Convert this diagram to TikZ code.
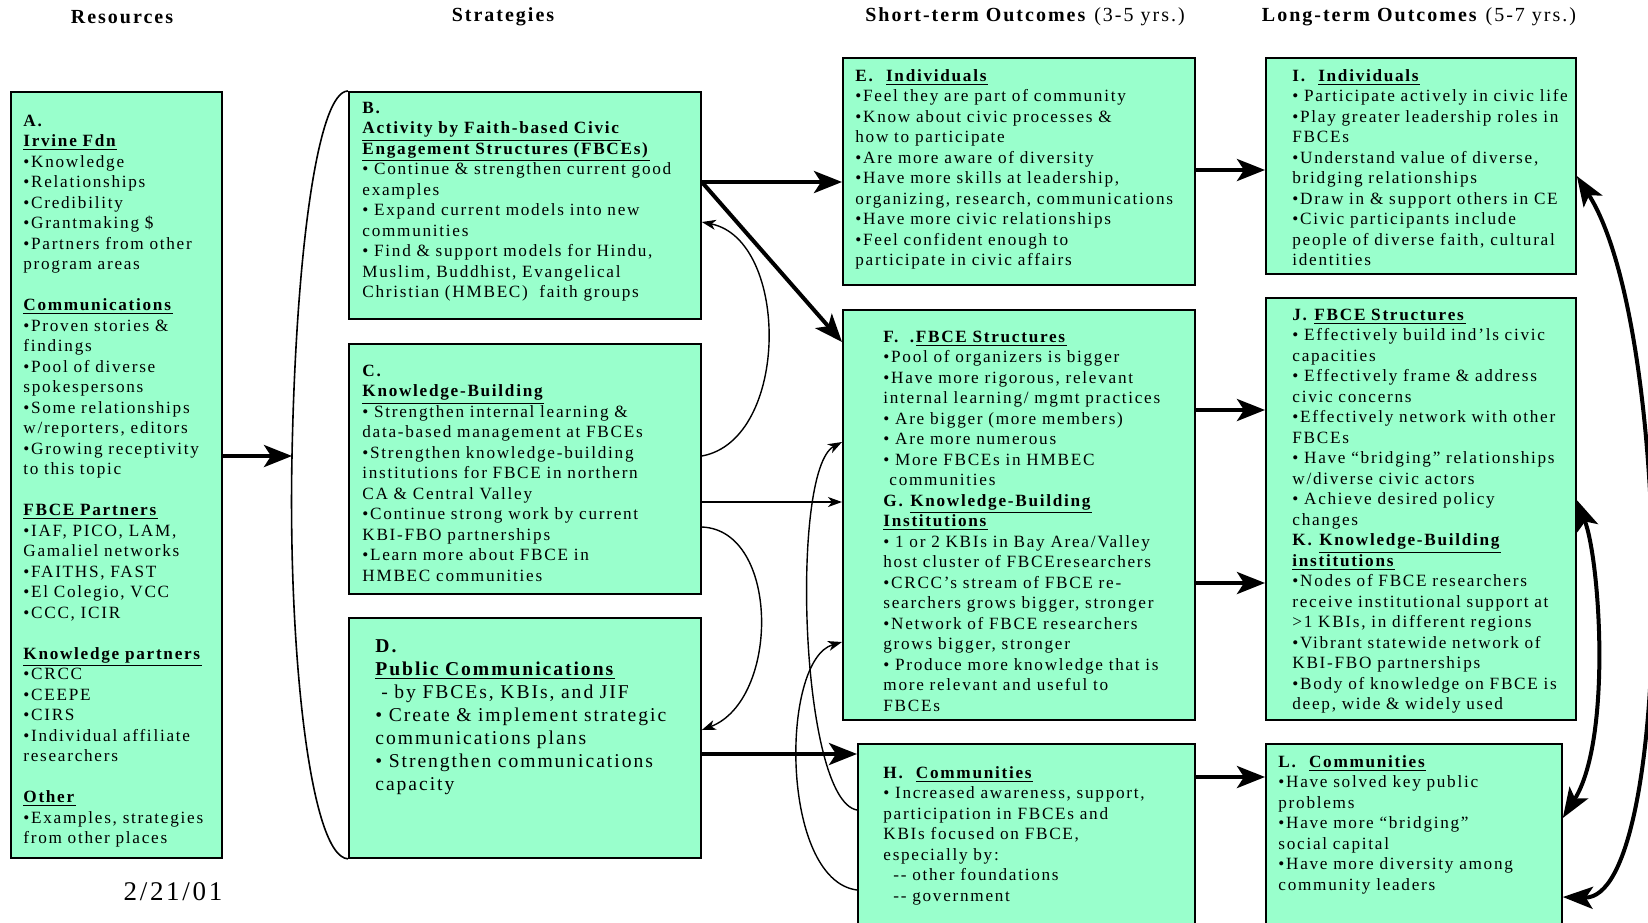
\documentclass[tikz,border=0pt]{standalone}
\usepackage{fontspec}
\setmainfont{Liberation Serif}[LetterSpace=10]
\usetikzlibrary{arrows.meta}
\definecolor{boxgreen}{RGB}{153,255,204}
\newcommand{\hd}[1]{\underline{\textbf{#1}}}
\newcommand{\gap}{\\[10.25pt]}

\begin{document}
\begin{tikzpicture}[x=0.5pt, y=-0.5pt,
  box/.style={draw, line width=0.9pt, fill=boxgreen, anchor=north west, inner sep=0pt},
  txt/.style={anchor=base west, inner sep=0pt, align=left, text width=175pt,
    font=\fontsize{8.6}{10.25}\selectfont},
  head/.style={inner sep=0pt, font=\fontsize{10}{12}\selectfont\bfseries},
  bigarrow/.style={line width=2pt, -{Stealth[length=14pt, width=11pt, inset=3.5pt]}},
  thinarrow/.style={line width=0.7pt, -{Stealth[length=7pt, width=5pt, inset=2pt]}},
  dblarrow/.style={line width=2pt, {Stealth[length=15pt, width=11pt, inset=3.5pt]}-{Stealth[length=15pt, width=11pt, inset=3.5pt]}}]
  \useasboundingbox (0,0) rectangle (1648,922);
  \clip (0,0) rectangle (1648,922);

  \node[head] (res) at (122,17) {Resources};
  \node[head] (str) at (503,17) {Strategies};
  \node[head] (sto) at (1026,17) {Short-term Outcomes \textmd{(3-5 yrs.)}};
  \node[head] (lto) at (1420,17) {Long-term Outcomes \textmd{(5-7 yrs.)}};
  \node[inner sep=0pt, font=\fontsize{13.5}{16}\selectfont] (date) at (173,892) {2/21/01};

  \node[box, minimum width=105.5pt, minimum height=383pt] (A) at (10,91) {};
  \node[box, minimum width=176pt, minimum height=113.5pt] (B) at (348,91) {};
  \node[box, minimum width=176pt, minimum height=125pt] (C) at (348,343) {};
  \node[box, minimum width=176pt, minimum height=120pt] (D) at (348,617) {};
  \node[box, minimum width=176pt, minimum height=113.5pt] (E) at (842,57) {};
  \node[box, minimum width=176pt, minimum height=205pt] (F) at (842,309) {};
  \node[box, minimum width=168.5pt, minimum height=100pt] (H) at (857,743) {};
  \node[box, minimum width=155pt, minimum height=108pt] (I) at (1265,57) {};
  \node[box, minimum width=155pt, minimum height=211pt] (J) at (1265,297) {};
  \node[box, minimum width=148pt, minimum height=100pt] (L) at (1265,743) {};

  \node[txt] (At) at ([shift={(13,35)}]A.north west) {\textbf{A.}\\
    \hd{Irvine Fdn}\\
    \textbullet Knowledge\\
    \textbullet Relationships\\
    \textbullet Credibility\\
    \textbullet Grantmaking \$\\
    \textbullet Partners from other\\
    program areas\gap
    \hd{Communications}\\
    \textbullet Proven stories \&\\
    findings\\
    \textbullet Pool of diverse\\
    spokespersons\\
    \textbullet Some relationships\\
    w/reporters, editors\\
    \textbullet Growing receptivity\\
    to this topic\gap
    \hd{FBCE Partners}\\
    \textbullet IAF, PICO, LAM,\\
    Gamaliel networks\\
    \textbullet FAITHS, FAST\\
    \textbullet El Colegio, VCC\\
    \textbullet CCC, ICIR\gap
    \hd{Knowledge partners}\\
    \textbullet CRCC\\
    \textbullet CEEPE\\
    \textbullet CIRS\\
    \textbullet Individual affiliate\\
    researchers\gap
    \hd{Other}\\
    \textbullet Examples, strategies\\
    from other places};
  \node[txt] (Bt) at ([shift={(14,22)}]B.north west) {\textbf{B.}\\
    \hd{Activity by Faith-based Civic}\\
    \hd{Engagement Structures (FBCEs)}\\
    \textbullet{} Continue \& strengthen current good\\
    examples\\
    \textbullet{} Expand current models into new\\
    communities\\
    \textbullet{} Find \& support models for Hindu,\\
    Muslim, Buddhist, Evangelical\\
    Christian (HMBEC)~ faith groups};
  \node[txt] (Ct) at ([shift={(14,33)}]C.north west) {\textbf{C.}\\
    \hd{Knowledge-Building}\\
    \textbullet{} Strengthen internal learning \&\\
    data-based management at FBCEs\\
    \textbullet Strengthen knowledge-building\\
    institutions for FBCE in northern\\
    CA \& Central Valley\\
    \textbullet Continue strong work by current\\
    KBI-FBO partnerships\\
    \textbullet Learn more about FBCE in\\
    HMBEC communities};
  \node[txt, font=\fontsize{9.8}{11.5}\selectfont] (Dt) at ([shift={(27,35)}]D.north west) {\textbf{D.}\\
    \hd{Public Communications}\\
    \hspace*{3pt}- by FBCEs, KBIs, and JIF\\
    \textbullet{} Create \& implement strategic\\
    communications plans\\
    \textbullet{} Strengthen communications\\
    capacity};
  \node[txt] (Et) at ([shift={(13,24)}]E.north west) {\textbf{E.}\ \ \hd{Individuals}\\
    \textbullet Feel they are part of community\\
    \textbullet Know about civic processes \&\\
    how to participate\\
    \textbullet Are more aware of diversity\\
    \textbullet Have more skills at leadership,\\
    organizing, research, communications\\
    \textbullet Have more civic relationships\\
    \textbullet Feel confident enough to\\
    participate in civic affairs};
  \node[txt] (Ft) at ([shift={(41,33)}]F.north west) {\textbf{F.\ \ .}\hd{FBCE Structures}\\
    \textbullet Pool of organizers is bigger\\
    \textbullet Have more rigorous, relevant\\
    internal learning/ mgmt practices\\
    \textbullet{} Are bigger (more members)\\
    \textbullet{} Are more numerous\\
    \textbullet{} More FBCEs in HMBEC\\
    \hspace*{3pt}communities\\
    \textbf{G.} \hd{Knowledge-Building}\\
    \hd{Institutions}\\
    \textbullet{} 1 or 2 KBIs in Bay Area/Valley\\
    host cluster of FBCEresearchers\\
    \textbullet CRCC’s stream of FBCE re-\\
    searchers grows bigger, stronger\\
    \textbullet Network of FBCE researchers\\
    grows bigger, stronger\\
    \textbullet{} Produce more knowledge that is\\
    more relevant and useful to\\
    FBCEs};
  \node[txt] (Ht) at ([shift={(26,35)}]H.north west) {\textbf{H.}\ \ \hd{Communities}\\
    \textbullet{} Increased awareness, support,\\
    participation in FBCEs and\\
    KBIs focused on FBCE,\\
    especially by:\\
    \hspace*{5pt}-{}- other foundations\\
    \hspace*{5pt}-{}- government};
  \node[txt] (It) at ([shift={(27,24)}]I.north west) {\textbf{I.}\ \ \hd{Individuals}\\
    \textbullet{} Participate actively in civic life\\
    \textbullet Play greater leadership roles in\\
    FBCEs\\
    \textbullet Understand value of diverse,\\
    bridging relationships\\
    \textbullet Draw in \& support others in CE\\
    \textbullet Civic participants include\\
    people of diverse faith, cultural\\
    identities};
  \node[txt] (Jt) at ([shift={(27,23)}]J.north west) {\textbf{J.} \hd{FBCE Structures}\\
    \textbullet{} Effectively build ind’ls civic\\
    capacities\\
    \textbullet{} Effectively frame \& address\\
    civic concerns\\
    \textbullet Effectively network with other\\
    FBCEs\\
    \textbullet{} Have “bridging” relationships\\
    w/diverse civic actors\\
    \textbullet{} Achieve desired policy\\
    changes\\
    \textbf{K.} \hd{Knowledge-Building}\\
    \hd{institutions}\\
    \textbullet Nodes of FBCE researchers\\
    receive institutional support at\\
    >1 KBIs, in different regions\\
    \textbullet Vibrant statewide network of\\
    KBI-FBO partnerships\\
    \textbullet Body of knowledge on FBCE is\\
    deep, wide \& widely used};
  \node[txt] (Lt) at ([shift={(13,24)}]L.north west) {\textbf{L.}\ \ \hd{Communities}\\
    \textbullet Have solved key public\\
    problems\\
    \textbullet Have more “bridging”\\
    social capital\\
    \textbullet Have more diversity among\\
    community leaders};

  \coordinate (brace) at (292,456);
  \draw[line width=0.8pt] (B.north west) .. controls (318,91) and (296,250) .. (brace)
    .. controls (288,650) and (310,857) .. (D.south west);
  \draw[bigarrow] (A.east |- brace) -- (brace);
  \draw[bigarrow] (B.east |- 0,182) -- (E.west |- 0,182);
  \draw[bigarrow] (B.east |- 0,182) -- (F.west |- 0,342);
  \draw[thinarrow] (C.east |- 0,456) .. controls (790,440) and (790,240) .. (B.east |- 0,222);
  \draw[thinarrow] (C.east |- 0,502) -- (F.west |- 0,502);
  \draw[thinarrow] (C.east |- 0,527) .. controls (780,530) and (780,700) .. (D.east |- 0,730);
  \draw[bigarrow] (D.east |- 0,754) -- (H.west |- 0,754);
  \draw[thinarrow] (H.west |- 0,810) .. controls (800,800) and (790,470) .. (F.west |- 0,442);
  \draw[thinarrow] (H.west |- 0,890) .. controls (780,880) and (780,660) .. (F.west |- 0,642);
  \draw[bigarrow] (E.east |- 0,170) -- (I.west |- 0,170);
  \draw[bigarrow] (F.east |- 0,410) -- (J.west |- 0,410);
  \draw[bigarrow] (F.east |- 0,583) -- (J.west |- 0,583);
  \draw[bigarrow] (H.east |- 0,777) -- (L.west |- 0,777);
  \draw[dblarrow] (I.east |- 0,176) .. controls (1675,330) and (1675,900) .. (L.east |- 0,897);
  \draw[dblarrow] (J.east |- 0,500) .. controls (1600,560) and (1612,740) .. (L.east |- 0,818);
\end{tikzpicture}
\end{document}
